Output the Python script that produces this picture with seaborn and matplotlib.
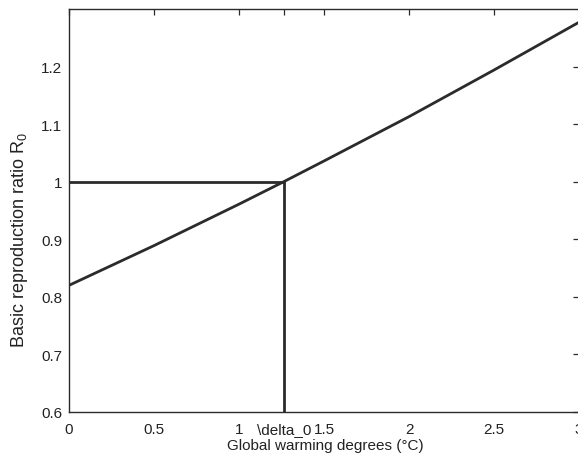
import matplotlib
matplotlib.use("Agg")
import matplotlib.pyplot as plt
import seaborn as sns
import pandas as pd

# Basic reproduction ratio as a function of global warming
warming = [0.0, 0.5, 1.0, 1.263, 1.5, 2.0, 2.5, 3.0]
r0 = [0.82, 0.889, 0.961, 1.0, 1.036, 1.113, 1.194, 1.277]

# Threshold where R0 reaches 1
delta0 = 1.263
threshold = 1.0

xticks = [0, 0.5, 1, delta0, 1.5, 2, 2.5, 3]
xticklabels = ["0", "0.5", "1", "\\delta_0", "1.5", "2", "2.5", "3"]
yticks = [0.6, 0.7, 0.8, 0.9, 1.0, 1.1, 1.2]
yticklabels = ["0.6", "0.7", "0.8", "0.9", "1", "1.1", "1.2"]

sns.set_theme(style="white")
plt.rcParams["font.family"] = ["Liberation Sans", "DejaVu Sans"]
plt.rcParams["mathtext.default"] = "regular"

W, H = 578, 456
fig = plt.figure(figsize=(W / 100, H / 100), dpi=100)
ax = fig.add_axes([69 / W, (H - 413) / H, 510 / W, 403 / H])

ink = "#2b2b2b"
df = pd.DataFrame({"warming": warming, "r0": r0})
sns.lineplot(data=df, x="warming", y="r0", ax=ax, color=ink, linewidth=2.0)

ax.plot([0, delta0], [threshold, threshold], color=ink, linewidth=2.0)
ax.plot([delta0, delta0], [0.6, threshold], color=ink, linewidth=2.0)

ax.set_xlim(0, 3)
ax.set_ylim(0.6, 1.3)
ax.set_xticks(xticks)
ax.set_xticklabels(xticklabels)
ax.set_yticks(yticks)
ax.set_yticklabels(yticklabels)
ax.tick_params(direction="in", length=4, width=0.9, color=ink,
               labelsize=11, labelcolor="#222222", top=True, right=True)
ax.tick_params(axis="x", pad=7)
ax.tick_params(axis="y", pad=5)
for s in ax.spines.values():
    s.set_color(ink)
    s.set_linewidth(1.0)

ax.set_xlabel("Global warming degrees (°C)", fontsize=11, color="#222222")
ax.set_ylabel("Basic reproduction ratio R$_0$", fontsize=13, color="#222222")
ax.xaxis.set_label_coords((325 - 69) / 510, -(446 - 413) / 403)
ax.yaxis.set_label_coords((20 - 69) / 510, (413 - 240) / 403)
ax.xaxis.label.set_va("center")
ax.yaxis.label.set_va("center")

fig.savefig("out.png", dpi=100)
